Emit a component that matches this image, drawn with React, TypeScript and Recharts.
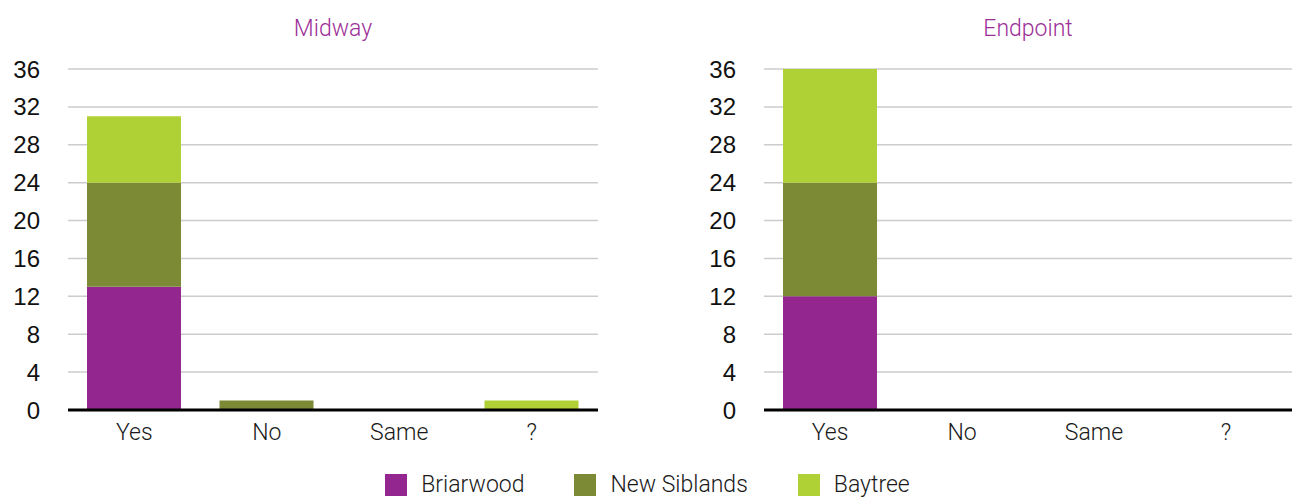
import React from 'react';
import { BarChart, Bar, XAxis, YAxis, CartesianGrid } from 'recharts';

const categories = ['Yes', 'No', 'Same', '?'];
const yTicks = [0, 4, 8, 12, 16, 20, 24, 28, 32, 36];

const seriesNames = ['Briarwood', 'New Siblands', 'Baytree'];
const seriesColors = ['#93268F', '#7C8A35', '#B0D136'];

const midwayBriarwood = [13, 0, 0, 0];
const midwayNewSiblands = [11, 1, 0, 0];
const midwayBaytree = [7, 0, 0, 1];

const endpointBriarwood = [12, 0, 0, 0];
const endpointNewSiblands = [12, 0, 0, 0];
const endpointBaytree = [12, 0, 0, 0];

const buildRows = (a: number[], b: number[], c: number[]) =>
  categories.map((cat, i) => ({ cat, s0: a[i], s1: b[i], s2: c[i] }));

const midwayRows = buildRows(midwayBriarwood, midwayNewSiblands, midwayBaytree);
const endpointRows = buildRows(endpointBriarwood, endpointNewSiblands, endpointBaytree);

const labelFont = 'Roboto, "Open Sans", sans-serif';
const numberFont = '"Liberation Sans", Arial, sans-serif';
const titleColor = '#9C2F98';

type PanelProps = {
  title: string;
  rows: { cat: string; s0: number; s1: number; s2: number }[];
  left: number;
  width: number;
  marginRight: number;
};

const Panel = ({ title, rows, left, width, marginRight }: PanelProps) => {
  const yAxisWidth = 68;
  const plotLeft = yAxisWidth;
  const plotRight = width - marginRight;
  return (
    <div style={{ position: 'absolute', left, top: 0, width, height: 470 }}>
      <div
        style={{
          position: 'absolute',
          top: 14,
          left: plotLeft,
          width: plotRight - plotLeft,
          textAlign: 'center',
          color: titleColor,
          fontFamily: labelFont,
          fontWeight: 300,
          fontSize: 23,
          lineHeight: '30px',
        }}
      >
        {title}
      </div>
      <BarChart
        width={width}
        height={470}
        data={rows}
        margin={{ top: 69, right: marginRight, bottom: 30, left: 0 }}
        barSize={94}
      >
        <CartesianGrid vertical={false} stroke="#cccccc" strokeWidth={1.5} />
        <XAxis
          dataKey="cat"
          tickLine={false}
          axisLine={{ stroke: '#000000', strokeWidth: 3 }}
          tickMargin={8}
          height={30}
          tick={{ fill: '#1a1a1a', fontFamily: labelFont, fontWeight: 300, fontSize: 23 }}
          interval={0}
        />
        <YAxis
          domain={[0, 36]}
          ticks={yTicks}
          width={yAxisWidth}
          tickLine={false}
          axisLine={false}
          tickMargin={22}
          interval={0}
          tick={{ fill: '#111111', fontFamily: numberFont, fontSize: 24 }}
        />
        <Bar dataKey="s0" stackId="a" fill={seriesColors[0]} isAnimationActive={false} />
        <Bar dataKey="s1" stackId="a" fill={seriesColors[1]} isAnimationActive={false} />
        <Bar dataKey="s2" stackId="a" fill={seriesColors[2]} isAnimationActive={false} />
      </BarChart>
    </div>
  );
};

export default function App() {
  return (
    <div
      style={{
        position: 'absolute',
        left: 0,
        top: 0,
        width: 1295,
        height: 497,
        background: '#ffffff',
        overflow: 'hidden',
      }}
    >
      <Panel title="Midway" rows={midwayRows} left={0} width={602} marginRight={4} />
      <Panel title="Endpoint" rows={endpointRows} left={696} width={599} marginRight={3} />
      <div
        style={{
          position: 'absolute',
          left: 0,
          top: 472,
          width: 1295,
          display: 'flex',
          justifyContent: 'center',
          gap: 50,
          fontFamily: labelFont,
          fontWeight: 300,
          fontSize: 23,
          color: '#1a1a1a',
        }}
      >
        {seriesNames.map((name, i) => (
          <div key={name} style={{ display: 'flex', alignItems: 'center' }}>
            <div style={{ width: 22, height: 22, background: seriesColors[i], marginRight: 14 }} />
            <span style={{ lineHeight: '25px' }}>{name}</span>
          </div>
        ))}
      </div>
    </div>
  );
}
